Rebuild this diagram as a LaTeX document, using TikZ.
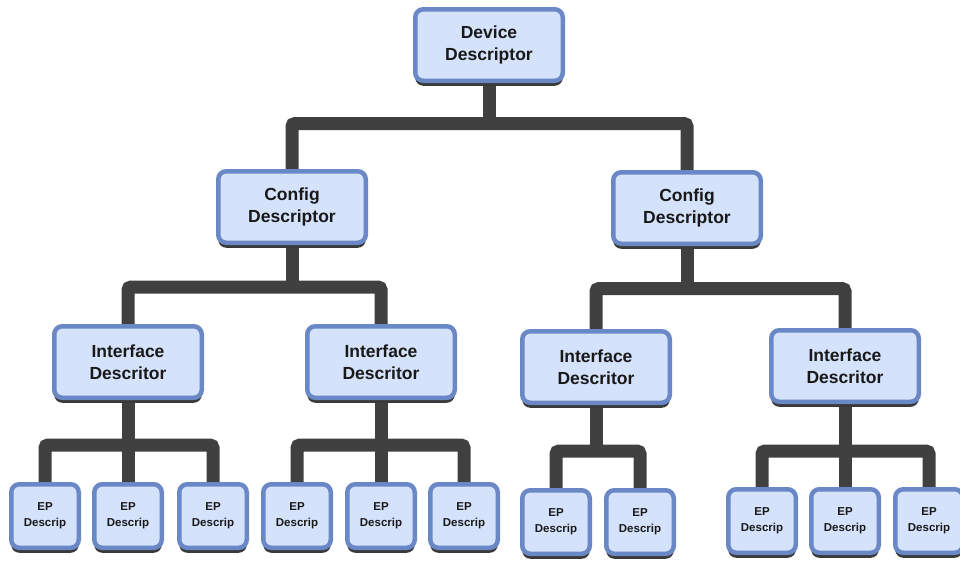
\documentclass[tikz,border=0pt]{standalone}
\usepackage{fontspec}
\setmainfont{Liberation Sans}
\usetikzlibrary{shadows, backgrounds}
\definecolor{descfill}{RGB}{212,226,251}
\definecolor{descedge}{RGB}{106,136,198}
\definecolor{treegray}{RGB}{64,64,64}
\definecolor{shadegray}{RGB}{58,58,58}

\begin{document}
\begin{tikzpicture}[x=1pt, y=-1pt,
    desc/.style={rectangle, draw=descedge, line width=4.5pt, fill=descfill, rounded corners=8pt, align=center, text=black!90, minimum width=147.5pt, minimum height=71.5pt, inner sep=0pt, font=\fontsize{17.5}{22}\selectfont\bfseries, drop shadow={shadow xshift=0pt, shadow yshift=-5pt, fill=shadegray, opacity=1}},
    ep/.style={desc, minimum width=67.5pt, minimum height=63.5pt, font=\fontsize{11.5}{16}\selectfont\bfseries},
    bar/.style={draw=treegray, line width=13pt, rounded corners=3pt}
]
\useasboundingbox (0,0) rectangle (960,563);

\node[desc] (dev) at (489,45) {Device\\Descriptor};

\node[desc] (cfgL) at (292,207) {Config\\Descriptor};
\node[desc] (cfgR) at (687,208) {Config\\Descriptor};

\node[desc] (ifL1) at (128,362) {Interface\\Descritor};
\node[desc] (ifL2) at (381,362) {Interface\\Descritor};
\node[desc] (ifR1) at (596,367) {Interface\\Descritor};
\node[desc] (ifR2) at (845,366) {Interface\\Descritor};

\node[ep] (epA1) at (45,516) {EP\\Descrip};
\node[ep] (epA2) at (128,516) {EP\\Descrip};
\node[ep] (epA3) at (213,516) {EP\\Descrip};
\node[ep] (epB1) at (297,516) {EP\\Descrip};
\node[ep] (epB2) at (381,516) {EP\\Descrip};
\node[ep] (epB3) at (464,516) {EP\\Descrip};
\node[ep] (epC1) at (556,522) {EP\\Descrip};
\node[ep] (epC2) at (640,522) {EP\\Descrip};
\node[ep] (epD1) at (762,521) {EP\\Descrip};
\node[ep] (epD2) at (845,521) {EP\\Descrip};
\node[ep] (epD3) at (929,521) {EP\\Descrip};

% tree connectors behind the boxes
\begin{scope}[on background layer]
\draw[bar] (dev) -- ++(0,78.5) coordinate (devj);
\draw[bar] (cfgL) |- (devj) -| (cfgR);

\draw[bar] (cfgL) -- ++(0,80) coordinate (cfgLj);
\draw[bar] (ifL1) |- (cfgLj) -| (ifL2);
\draw[bar] (cfgR) -- ++(0,80.5) coordinate (cfgRj);
\draw[bar] (ifR1) |- (cfgRj) -| (ifR2);

\draw[bar] (ifL1) -- ++(0,83) coordinate (ifL1j);
\draw[bar] (epA1) |- (ifL1j) -| (epA3);
\draw[bar] (ifL1j) -- (epA2);
\draw[bar] (ifL2) -- ++(0,83) coordinate (ifL2j);
\draw[bar] (epB1) |- (ifL2j) -| (epB3);
\draw[bar] (ifL2j) -- (epB2);
\draw[bar] (ifR1) -- ++(0,84) coordinate (ifR1j);
\draw[bar] (epC1) |- (ifR1j) -| (epC2);
\draw[bar] (ifR2) -- ++(0,85) coordinate (ifR2j);
\draw[bar] (epD1) |- (ifR2j) -| (epD3);
\draw[bar] (ifR2j) -- (epD2);
\end{scope}
\end{tikzpicture}
\end{document}
